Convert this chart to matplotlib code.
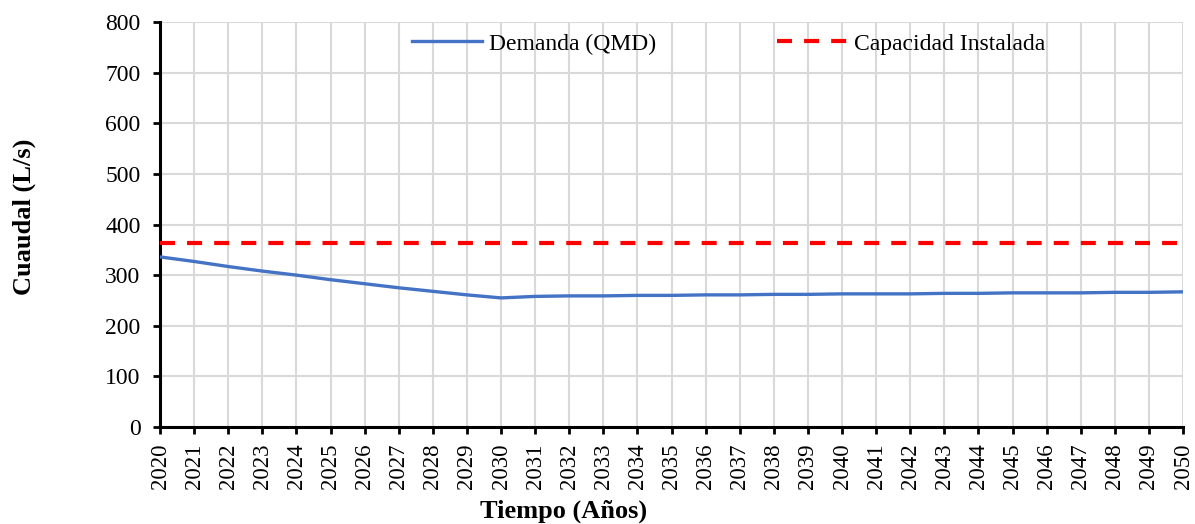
import matplotlib
matplotlib.use("Agg")
import matplotlib.pyplot as plt

years = list(range(2020, 2051))
demanda = [336, 327, 317, 308, 300, 291, 283, 275, 268, 261, 255,
           258, 259, 259, 260, 260, 261, 261, 262, 262, 263,
           263, 263, 264, 264, 265, 265, 265, 266, 266, 267]
capacidad = [363.5] * len(years)
yticks = list(range(0, 801, 100))

plt.rcParams['font.family'] = ['Liberation Serif', 'DejaVu Serif']

fig = plt.figure(figsize=(11.95, 5.24), dpi=100)
ax = fig.add_axes([0.1339, 0.1851, 0.8561, 0.7729])

ax.plot(years, demanda, color='#4472C4', lw=2.4, label='Demanda (QMD)', zorder=3)
ax.plot(years, capacidad, color='#FF0000', lw=3, ls=(0, (3.6, 2.9)), label='Capacidad Instalada', zorder=3)

ax.set_xlim(2020, 2050)
ax.set_ylim(0, 800)
ax.set_xticks(years)
ax.set_xticklabels([str(y) for y in years], rotation=90, fontsize=16.5)
ax.set_yticks(yticks)
ax.set_yticklabels([str(v) for v in yticks], fontsize=17)
ax.grid(True, color='#D9D9D9', lw=1.5, zorder=0)
ax.set_axisbelow(True)

for s in ['top', 'right']:
    ax.spines[s].set_visible(False)
for s in ['left', 'bottom']:
    ax.spines[s].set_linewidth(2.2)
    ax.spines[s].set_color('black')
ax.tick_params(direction='out', length=5, width=2, colors='black')
ax.tick_params(axis='y', pad=9)
ax.tick_params(axis='x', pad=7)

ax.set_xlabel('Tiempo (Años)', fontsize=19, fontweight='bold')
ax.xaxis.set_label_coords(0.394, -0.18)
ax.set_ylabel('Cuaudal (L/s)', fontsize=19, fontweight='bold')
ax.yaxis.set_label_coords(-0.121, 0.52)

ax.legend(loc='upper center', bbox_to_anchor=(0.556, 1.025), ncol=2, frameon=False,
          fontsize=17, handlelength=2.96, handletextpad=0.3, columnspacing=5.1)

fig.savefig('out.png', dpi=100)
